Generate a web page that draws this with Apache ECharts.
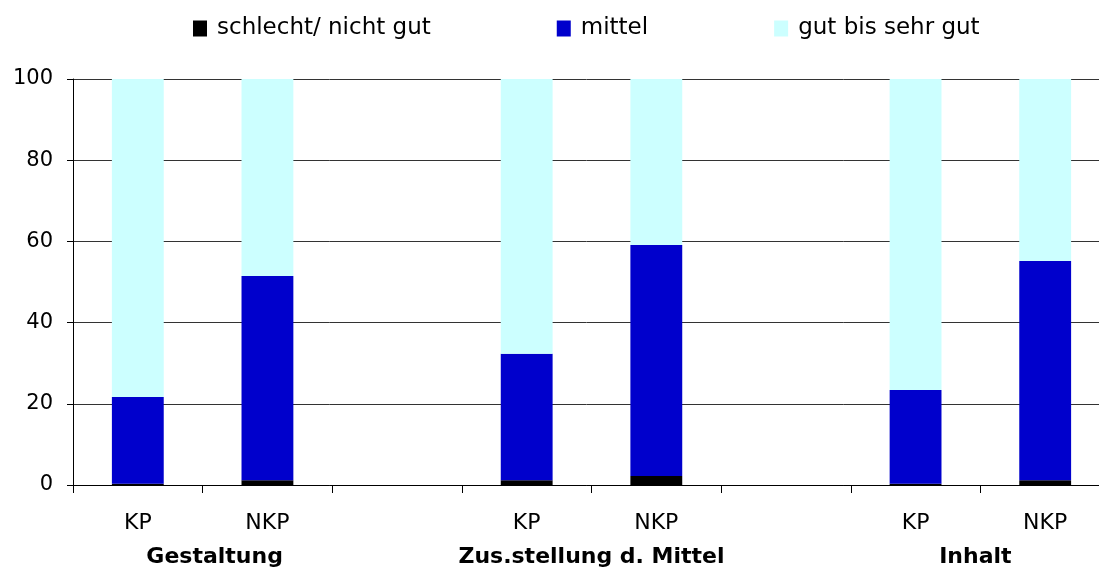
<!doctype html>
<html>
    <head>
        <meta charset="utf-8">
        <style>
            html, body { margin: 0; padding: 0; background: #fff; }
            #main { width: 1099px; height: 569px; }
        </style>
    </head>
    <body>
        <div id="main"></div>
        <script src="https://cdn.jsdelivr.net/npm/echarts@6/dist/echarts.min.js"></script>
        <script>
            var categories = ['KP', 'NKP', '', 'KP', 'NKP', '', 'KP', 'NKP'];
            var groupNames = ['Gestaltung', 'Zus.stellung d. Mittel', 'Inhalt'];
            var groupPositions = [1, 4, 7];
            var yTicks = [0, 20, 40, 60, 80, 100];

            var schlecht = [0.3, 1.2, null, 1.2, 2.2, null, 0.3, 1.2];
            var mittel = [21.4, 50.3, null, 31.1, 56.9, null, 23.1, 54.0];
            var gut = [78.3, 48.5, null, 67.7, 40.9, null, 76.6, 44.8];

            var FONT = 'DejaVu Sans';

            var chart = echarts.init(document.getElementById('main'));

            function bar(name, data, color) {
                return {
                    name: name,
                    type: 'bar',
                    stack: 'all',
                    barWidth: '40%',
                    data: data,
                    itemStyle: { color: color },
                    emphasis: { disabled: true }
                };
            }

            // Excel centres the group captions a little off the boundaries
            var groupRich = {
                g0: { fontFamily: FONT, fontSize: 22, fontWeight: 'bold', color: '#000', padding: [0, 0, 0, 24] },
                g1: { fontFamily: FONT, fontSize: 22, fontWeight: 'bold', color: '#000' },
                g2: { fontFamily: FONT, fontSize: 22, fontWeight: 'bold', color: '#000', padding: [0, 10, 0, 0] }
            };

            chart.setOption({
                animation: false,
                textStyle: { fontFamily: FONT, color: '#000' },
                legend: {
                    left: 188,
                    top: 12,
                    itemWidth: 14,
                    itemHeight: 16,
                    itemGap: 126,
                    icon: 'rect',
                    textStyle: { fontFamily: FONT, fontSize: 23, color: '#000', padding: [0, 0, 0, 5] },
                    data: ['schlecht/ nicht gut', 'mittel', 'gut bis sehr gut']
                },
                grid: { left: 73, width: 1037, top: 79, bottom: 84, outerBoundsMode: 'none' },
                xAxis: [{
                    type: 'category',
                    data: categories,
                    axisLine: { show: true, lineStyle: { color: '#000', width: 1 } },
                    axisTick: { show: true, length: 8, lineStyle: { color: '#000' } },
                    axisLabel: { fontFamily: FONT, fontSize: 22, color: '#000', margin: 27, interval: 0 }
                }, {
                    type: 'value',
                    position: 'bottom',
                    min: 0,
                    max: 8,
                    interval: 1,
                    axisLine: { show: false },
                    axisTick: { show: false },
                    splitLine: { show: false },
                    axisLabel: {
                        margin: 61,
                        rich: groupRich,
                        formatter: function (v) {
                            var i = groupPositions.indexOf(v);
                            return i >= 0 ? '{g' + i + '|' + groupNames[i] + '}' : '';
                        }
                    }
                }],
                yAxis: {
                    type: 'value',
                    min: yTicks[0],
                    max: yTicks[yTicks.length - 1],
                    interval: 20,
                    axisLine: { show: true, lineStyle: { color: '#000' } },
                    axisTick: { show: true, length: 6, lineStyle: { color: '#000' } },
                    axisLabel: { fontFamily: FONT, fontSize: 21, color: '#000', margin: 20 },
                    splitLine: { lineStyle: { color: '#333', width: 1 } }
                },
                series: [
                    bar('schlecht/ nicht gut', schlecht, '#000000'),
                    bar('mittel', mittel, '#0000CC'),
                    bar('gut bis sehr gut', gut, '#CCFFFF')
                ]
            });

            window.addEventListener('resize', function () {
                chart.resize();
            });
        </script>
    </body>
</html>
